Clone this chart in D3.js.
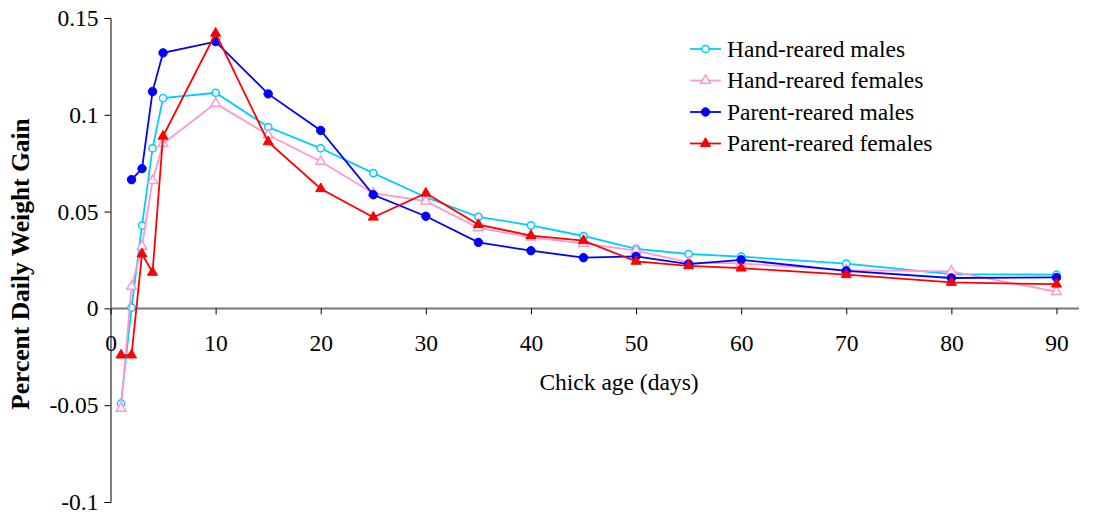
<!DOCTYPE html>
<html>
<head>
<meta charset="utf-8">
<script src="https://cdn.jsdelivr.net/npm/d3@7"></script>
<style>
  body { margin: 0; background: #fff; }
</style>
</head>
<body>
<div id="chart"></div>
<script>
// chick age in days
const days = [1, 2, 3, 4, 5, 10, 15, 20, 25, 30, 35, 40, 45, 50, 55, 60, 70, 80, 90];

const handMales = [-0.0491, 0.0004, 0.0428, 0.0827, 0.1086, 0.1114, 0.0937, 0.0827, 0.0699, 0.0574,
  0.0473, 0.0429, 0.0374, 0.0308, 0.0281, 0.0267, 0.0231, 0.0177, 0.0174];
const handFemales = [-0.0517, 0.0113, 0.032, 0.066, 0.0851, 0.1059, 0.0896, 0.0759, 0.0595, 0.0554,
  0.0416, 0.0367, 0.0336, 0.0298, 0.0238, 0.0232, 0.0198, 0.0191, 0.0086];
// no value for day 1
const parentMales = [null, 0.0665, 0.0722, 0.112, 0.132, 0.1378, 0.1108, 0.0919, 0.0587, 0.0476,
  0.0341, 0.0298, 0.0262, 0.0269, 0.0229, 0.0251, 0.0194, 0.0157, 0.016];
const parentFemales = [-0.0241, -0.0241, 0.0281, 0.0186, 0.0889, 0.1421, 0.086, 0.0618, 0.0471, 0.0595,
  0.0433, 0.0376, 0.035, 0.0243, 0.022, 0.0208, 0.0174, 0.0134, 0.0125];

const seriesNames = ['Hand-reared males', 'Hand-reared females', 'Parent-reared males', 'Parent-reared females'];
const xTicks = [0, 10, 20, 30, 40, 50, 60, 70, 80, 90];
const yTicks = [-0.1, -0.05, 0, 0.05, 0.1, 0.15];

const series = [
  { name: seriesNames[0], values: handMales, color: '#00ccff', marker: 'circle', fill: false },
  { name: seriesNames[1], values: handFemales, color: '#ff99cc', marker: 'triangle', fill: false },
  { name: seriesNames[2], values: parentMales, color: '#0000ff', marker: 'circle', fill: true },
  { name: seriesNames[3], values: parentFemales, color: '#ff0000', marker: 'triangle', fill: true }
];

const width = 1100, height = 512;
const serif = "'Liberation Serif', 'Times New Roman', serif";
const fontSize = 23.5;

const svg = d3.select('#chart').append('svg')
  .attr('width', width)
  .attr('height', height);

const x = d3.scaleLinear().domain([0, 90]).range([110.5, 1056.5]);
const y = d3.scaleLinear().domain([-0.1, 0.15]).range([502, 18]);

// y axis
const yAxis = svg.append('g')
  .attr('transform', 'translate(' + x(0) + ',0)')
  .call(d3.axisLeft(y).tickValues(yTicks).tickSize(6).tickPadding(6)
    .tickFormat(d => String(+d.toFixed(2))));
yAxis.select('.domain').attr('stroke', '#000');
yAxis.selectAll('.tick line').attr('stroke', '#000');

// x axis at zero
const xAxis = svg.append('g')
  .attr('transform', 'translate(0,' + y(0) + ')')
  .call(d3.axisBottom(x).tickValues(xTicks).tickSize(6).tickPadding(20));
xAxis.select('.domain').attr('d', 'M' + x(0) + ',0H1079').attr('stroke', '#777').attr('stroke-width', 2);
xAxis.selectAll('.tick line').attr('stroke', '#000');

svg.selectAll('.tick text')
  .style('font-family', serif)
  .style('font-size', fontSize + 'px')
  .attr('fill', '#000');

// axis titles
svg.append('text')
  .attr('x', 619).attr('y', 390)
  .attr('text-anchor', 'middle')
  .style('font-family', serif)
  .style('font-size', fontSize + 'px')
  .text('Chick age (days)');

svg.append('text')
  .attr('transform', 'translate(29,264) rotate(-90)')
  .attr('text-anchor', 'middle')
  .style('font-family', serif)
  .style('font-size', '25.5px')
  .style('font-weight', 'bold')
  .text('Percent Daily Weight Gain');

const line = d3.line()
  .defined(d => d[1] !== null)
  .x(d => x(d[0]))
  .y(d => y(d[1]));

const triangle = d3.symbol().type(d3.symbolTriangle);

function drawMarker(g, s, cx, cy) {
  if (s.marker === 'circle') {
    g.append('circle')
      .attr('cx', cx).attr('cy', cy)
      .attr('r', s.fill ? 4.2 : 3.6)
      .attr('fill', s.fill ? s.color : '#fff')
      .attr('stroke', s.color)
      .attr('stroke-width', s.fill ? 1 : 1.5);
  } else {
    g.append('path')
      .attr('d', triangle.size(s.fill ? 44 : 40)())
      .attr('transform', 'translate(' + cx + ',' + cy + ')')
      .attr('fill', s.fill ? s.color : '#fff')
      .attr('stroke', s.color)
      .attr('stroke-width', s.fill ? 1 : 1.5);
  }
}

series.forEach(function (s) {
  const pts = days.map((d, i) => [d, s.values[i]]);
  const g = svg.append('g');
  g.append('path')
    .datum(pts)
    .attr('d', line)
    .attr('fill', 'none')
    .attr('stroke', s.color)
    .attr('stroke-width', 1.8);
  pts.filter(p => p[1] !== null).forEach(p => drawMarker(g, s, x(p[0]), y(p[1])));
});

// legend
const legend = svg.append('g').attr('transform', 'translate(690,49)');
series.forEach(function (s, i) {
  const row = legend.append('g').attr('transform', 'translate(0,' + (i * 31.5) + ')');
  row.append('line')
    .attr('x1', 0).attr('x2', 31).attr('y1', 0).attr('y2', 0)
    .attr('stroke', s.color).attr('stroke-width', 1.8);
  drawMarker(row, s, 15.5, 0);
  row.append('text')
    .attr('x', 37).attr('y', 7.5)
    .style('font-family', serif)
    .style('font-size', fontSize + 'px')
    .text(s.name);
});
</script>
</body>
</html>
